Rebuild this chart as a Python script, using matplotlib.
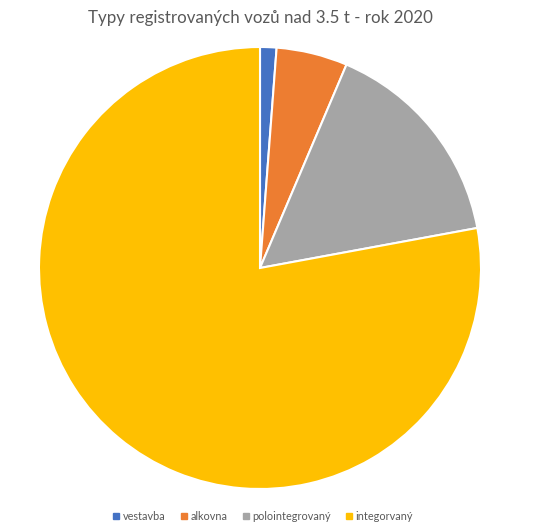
import matplotlib.pyplot as plt
from matplotlib.lines import Line2D

plt.rcParams["font.family"] = ["Lato", "DejaVu Sans"]

labels = ["vestavba", "alkovna", "polointegrovaný", "integorvaný"]
values = [12, 52, 157, 779]
colors = ["#4472C4", "#ED7D31", "#A5A5A5", "#FFC000"]

fig = plt.figure(figsize=(5.53, 5.29), dpi=100)
ax = fig.add_axes([39 / 553, 40 / 529, 442 / 553, 442 / 529])
ax.pie(values, colors=colors, startangle=90, counterclock=False,
       wedgeprops=dict(edgecolor="white", linewidth=1.5))
ax.set_xlim(-1.0, 1.0)
ax.set_ylim(-1.0, 1.0)

fig.text(260 / 553, 1 - 18 / 529, "Typy registrovaných vozů nad 3.5 t - rok 2020",
         ha="center", va="center", fontsize=12.2, color="#595959")

handles = [Line2D([], [], marker="s", linestyle="", markersize=4.5,
                  markerfacecolor=c, markeredgecolor=c) for c in colors]
fig.legend(handles, labels, loc="center", bbox_to_anchor=(263 / 553, 1 - 516 / 529),
           ncol=4, frameon=False, fontsize=7.8, handlelength=0.6,
           handletextpad=0.3, columnspacing=1.4, labelcolor="#595959")

fig.savefig("out.png", dpi=100)
